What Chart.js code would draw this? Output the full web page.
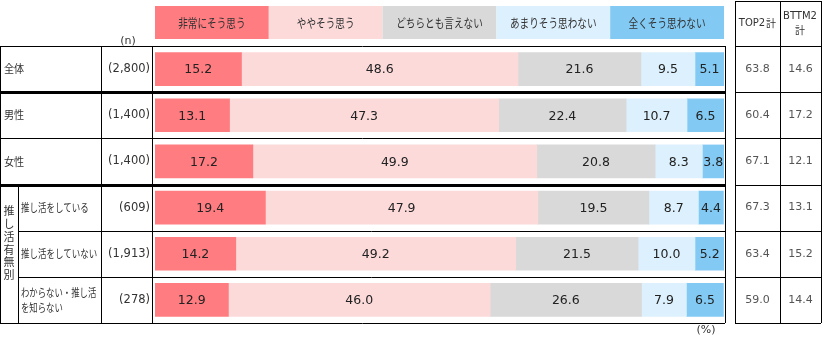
<!DOCTYPE html>
<html>
<head>
<meta charset="utf-8">
<script src="https://cdn.jsdelivr.net/npm/chart.js@4.4.1/dist/chart.umd.min.js"></script>
<style>
  html, body { margin: 0; padding: 0; background: #fff; }
  #wrap { width: 825px; height: 339px; position: relative; }
</style>
</head>
<body>
<div id="wrap"><canvas id="chart" width="825" height="339"></canvas></div>
<script>
// data
const rowLabels = ["全体", "男性", "女性", "推し活をしている", "推し活をしていない", ["わからない・推し活", "を知らない"]];
const nLabels = ["(2,800)", "(1,400)", "(1,400)", "(609)", "(1,913)", "(278)"];
const seriesNames = ["非常にそう思う", "ややそう思う", "どちらとも言えない", "あまりそう思わない", "全くそう思わない"];
const seriesColors = ["#FF7C80", "#FCDADA", "#D9D9D9", "#DDF0FD", "#82CAF4"];
const veryMuch = [15.2, 13.1, 17.2, 19.4, 14.2, 12.9];
const somewhat = [48.6, 47.3, 49.9, 47.9, 49.2, 46.0];
const neither = [21.6, 22.4, 20.8, 19.5, 21.5, 26.6];
const notMuch = [9.5, 10.7, 8.3, 8.7, 10.0, 7.9];
const notAtAll = [5.1, 6.5, 3.8, 4.4, 5.2, 6.5];
const top2 = ["63.8", "60.4", "67.1", "67.3", "63.4", "59.0"];
const bttm2 = ["14.6", "17.2", "12.1", "13.1", "15.2", "14.4"];
const groupLabel = "推し活有無別";

const seriesValues = [veryMuch, somewhat, neither, notMuch, notAtAll];
const JP = '"Noto Sans CJK JP", "Noto Sans", sans-serif';
const NUM = '"DejaVu Sans", sans-serif';

function hline(ctx, x1, x2, y, w) {
  ctx.lineWidth = w;
  ctx.beginPath();
  const yy = w % 2 === 1 ? Math.round(y) + 0.5 : Math.round(y);
  ctx.moveTo(x1, yy);
  ctx.lineTo(x2, yy);
  ctx.stroke();
}
function vline(ctx, x, y1, y2, w) {
  ctx.lineWidth = w;
  ctx.beginPath();
  const xx = w % 2 === 1 ? Math.round(x) + 0.5 : Math.round(x);
  ctx.moveTo(xx, y1);
  ctx.lineTo(xx, y2);
  ctx.stroke();
}
// japanese text is a bit narrower in the original font, so squeeze it
function jpText(ctx, text, x, y, squeeze) {
  const w = ctx.measureText(text).width;
  ctx.fillText(text, x, y, w * (squeeze || 0.8));
}

// table, legend and labels around the bars
const tablePlugin = {
  id: "tablePlugin",
  afterDraw(chart) {
    const ctx = chart.ctx;
    const a = chart.chartArea;
    const top = 46, bottom = 323, rowH = (bottom - top) / 6;
    const boxRight = 725;
    ctx.save();
    ctx.strokeStyle = "#000";

    // legend cells
    const cellW = (a.right - a.left) / 5;
    seriesNames.forEach((name, i) => {
      ctx.fillStyle = seriesColors[i];
      ctx.fillRect(a.left + i * cellW, 6, cellW, 33);
      ctx.fillStyle = "#333";
      ctx.font = "12.5px " + JP;
      ctx.textAlign = "center";
      ctx.textBaseline = "middle";
      jpText(ctx, name, a.left + i * cellW + cellW / 2, 23.5, 0.77);
    });

    // left table + chart box
    hline(ctx, 0, boxRight, top, 1);
    hline(ctx, 0, boxRight, bottom, 1);
    vline(ctx, 0, top, bottom, 1);
    vline(ctx, 101, top, bottom, 1);
    vline(ctx, 152, top, bottom, 1);
    vline(ctx, boxRight, top, bottom, 1);
    vline(ctx, 18, top + rowH * 3, bottom, 1);
    for (let i = 1; i < 6; i++) {
      const y = top + rowH * i;
      if (i === 1 || i === 3) hline(ctx, 0, boxRight, y, 3);
      else if (i > 3) hline(ctx, 18, boxRight, y, 1);
      else hline(ctx, 0, boxRight, y, 1);
    }

    // row labels
    ctx.fillStyle = "#333";
    ctx.textBaseline = "middle";
    rowLabels.forEach((lab, i) => {
      const cy = top + rowH * (i + 0.5);
      const x = i >= 3 ? 21 : 4;
      ctx.font = "11px " + JP;
      ctx.textAlign = "left";
      if (Array.isArray(lab)) {
        jpText(ctx, lab[0], x, cy - 7, 0.76);
        jpText(ctx, lab[1], x, cy + 8, 0.76);
      } else {
        jpText(ctx, lab, x, cy, i >= 3 ? 0.77 : 0.92);
      }
      ctx.font = "11.5px " + NUM;
      ctx.textAlign = "right";
      ctx.fillText(nLabels[i], 150, cy);
    });
    ctx.font = "11px " + NUM;
    ctx.textAlign = "center";
    ctx.fillText("(n)", 128, 41);
    ctx.fillText("(%)", 706, 330);

    // vertical group label
    ctx.font = "11px " + JP;
    groupLabel.split("").forEach((c, k) => {
      ctx.fillText(c, 9, 211 + k * 12.8);
    });

    // right table
    const rL = 735, rM = 780, rR = 821;
    vline(ctx, rL, 1, bottom, 1);
    vline(ctx, rM, 1, bottom, 1);
    vline(ctx, rR, 1, bottom, 1);
    hline(ctx, rL, rR, 1, 1);
    for (let i = 0; i <= 6; i++) {
      hline(ctx, rL, rR, top + rowH * i, 1);
    }
    ctx.fillStyle = "#333";
    ctx.font = "10px " + NUM;
    ctx.fillText("TOP2", 752, 23);
    ctx.font = "10px " + JP;
    ctx.fillText("計", 771, 23);
    ctx.font = "10px " + NUM;
    ctx.fillText("BTTM2", 800, 16);
    ctx.font = "10px " + JP;
    ctx.fillText("計", 800, 30);
    ctx.font = "11px " + NUM;
    ctx.fillStyle = "#555";
    for (let i = 0; i < 6; i++) {
      const cy = top + rowH * (i + 0.5);
      ctx.fillText(top2[i], 757.5, cy);
      ctx.fillText(bttm2[i], 800.5, cy);
    }
    ctx.restore();
  },
  afterDatasetsDraw(chart) {
    const ctx = chart.ctx;
    ctx.save();
    ctx.fillStyle = "#222";
    ctx.font = "12.5px " + NUM;
    ctx.textAlign = "center";
    ctx.textBaseline = "middle";
    chart.data.datasets.forEach((ds, di) => {
      const meta = chart.getDatasetMeta(di);
      meta.data.forEach((bar, i) => {
        const v = ds.data[i];
        ctx.fillText(v.toFixed(1), (bar.x + bar.base) / 2, bar.y + 1);
      });
    });
    ctx.restore();
  }
};

const chart = new Chart(document.getElementById("chart").getContext("2d"), {
  type: "bar",
  data: {
    labels: rowLabels.map((l) => (Array.isArray(l) ? l.join("") : l)),
    datasets: seriesNames.map((name, i) => ({
      label: name,
      data: seriesValues[i],
      backgroundColor: seriesColors[i],
      borderWidth: 0,
      barThickness: 33,
    })),
  },
  options: {
    indexAxis: "y",
    responsive: false,
    animation: false,
    layout: { padding: { left: 155, right: 101, top: 46, bottom: 16 } },
    scales: {
      x: { stacked: true, min: 0, max: 100, display: false },
      y: { stacked: true, display: false },
    },
    plugins: { legend: { display: false }, tooltip: { enabled: false } },
  },
  plugins: [tablePlugin],
});
</script>
</body>
</html>
